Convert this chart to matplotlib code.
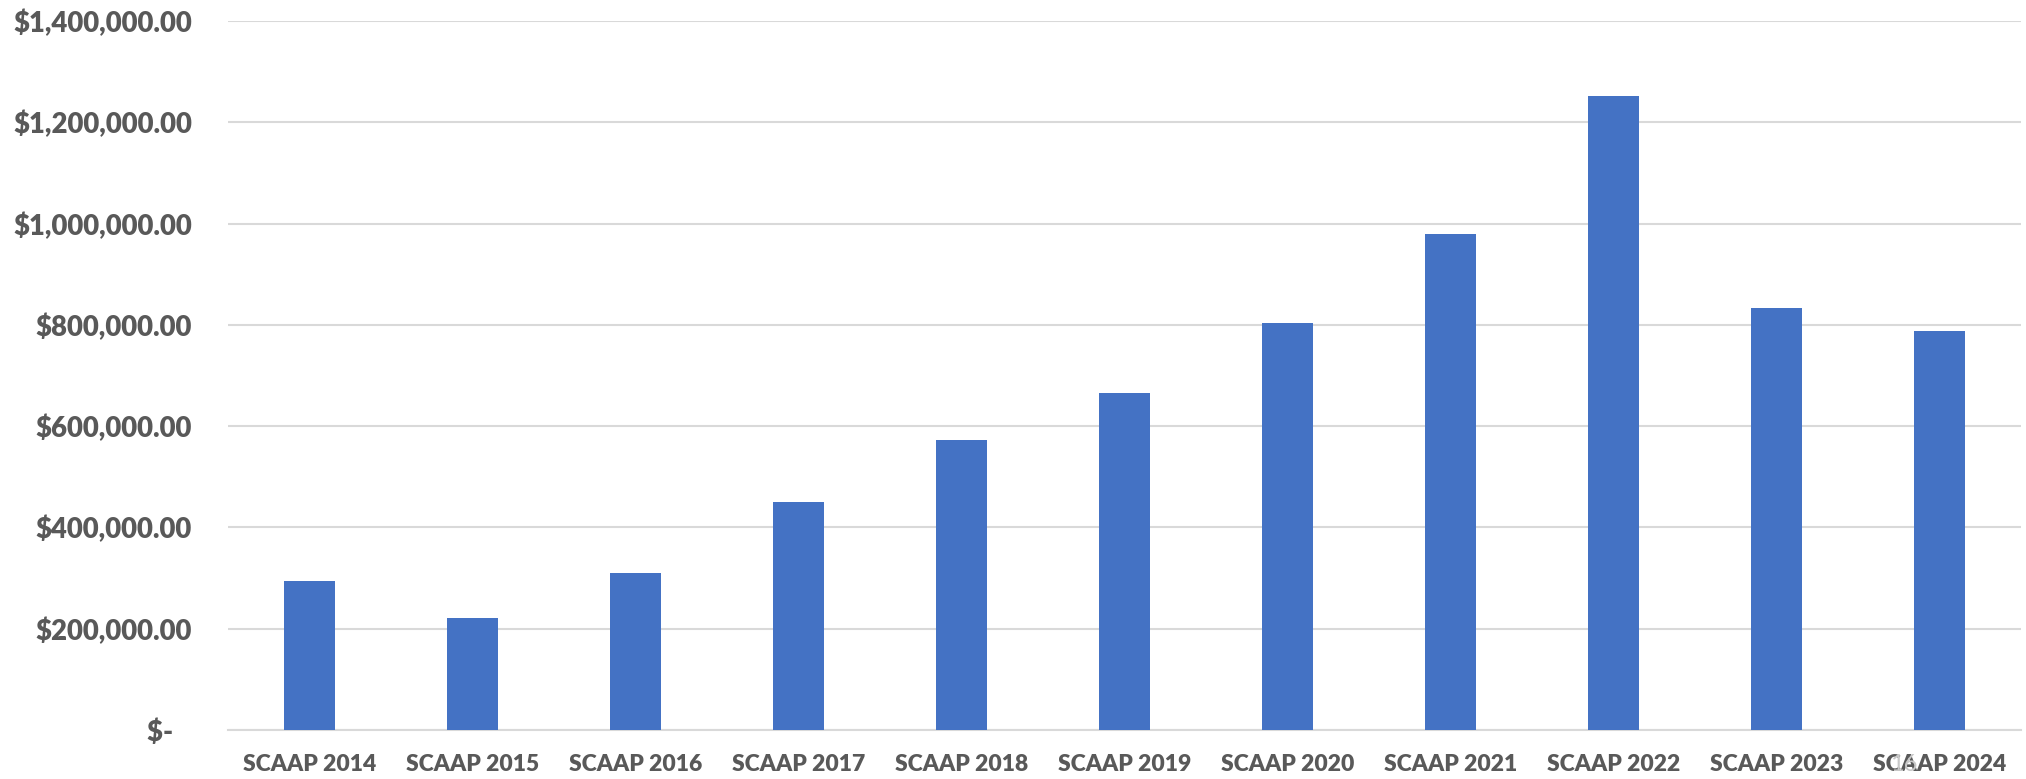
import matplotlib

matplotlib.use("Agg")
import matplotlib.pyplot as plt
from matplotlib.ticker import FuncFormatter

# values
categories = [
    "SCAAP 2014", "SCAAP 2015", "SCAAP 2016", "SCAAP 2017", "SCAAP 2018",
    "SCAAP 2019", "SCAAP 2020", "SCAAP 2021", "SCAAP 2022", "SCAAP 2023",
    "SCAAP 2024",
]
amounts = [
    295000, 220500, 310500, 451000, 572000,
    666000, 804500, 980000, 1251000, 833000,
    788500,
]
y_ticks = [0, 200000, 400000, 600000, 800000, 1000000, 1200000, 1400000]

BAR = "#4472c4"
GRID = "#d9d9d9"
TEXT = "#595959"
FONT = ["Lato", "DejaVu Sans"]


def money(v, _pos=None):
    if v == 0:
        return "$-   "
    return f"${v:,.2f}"


fig = plt.figure(figsize=(20.26, 7.79), dpi=100)
ax = fig.add_axes([0.1125, 0.063, 0.885, 0.91])

x = range(len(categories))
ax.bar(x, amounts, width=0.31, color=BAR, zorder=3)

ax.set_xlim(-0.5, len(categories) - 0.5)
ax.set_ylim(0, 1400000)
ax.set_yticks(y_ticks)
ax.yaxis.set_major_formatter(FuncFormatter(money))
ax.set_xticks(list(x))
ax.set_xticklabels(categories)

ax.grid(axis="y", color=GRID, linewidth=1.5, zorder=0)
for side in ("top", "right", "left"):
    ax.spines[side].set_visible(False)
ax.spines["bottom"].set_color(GRID)
ax.spines["bottom"].set_linewidth(1.5)
ax.tick_params(axis="both", length=0, colors=TEXT)
ax.tick_params(axis="y", pad=26)
ax.tick_params(axis="x", pad=17)

for lab in ax.get_yticklabels():
    lab.set_fontfamily(FONT)
    lab.set_fontweight("heavy")
    lab.set_fontsize(19.8)
for lab in ax.get_xticklabels():
    lab.set_fontfamily(FONT)
    lab.set_fontweight("heavy")
    lab.set_fontsize(16.5)

# faint slide number showing through the last label
fig.text(1890 / 2026, 1 - 771 / 779, "16", color="#c8c8c8", fontsize=17,
         family=FONT, ha="left", va="baseline")

fig.savefig("out.png", dpi=100)
